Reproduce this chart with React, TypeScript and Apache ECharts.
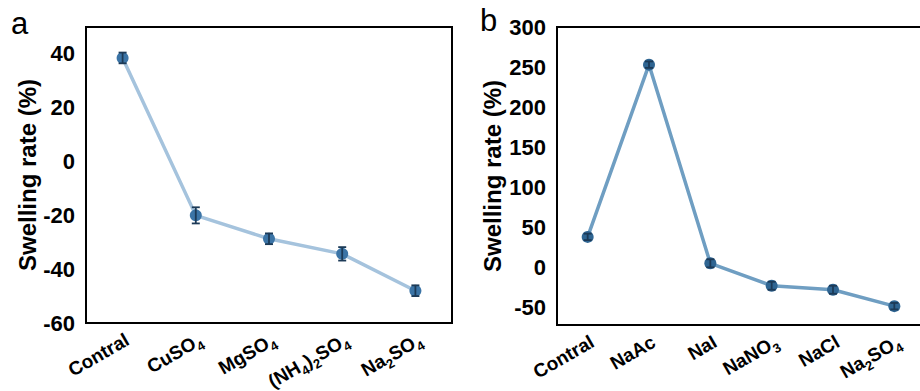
import React, { useEffect, useRef } from "react";
import * as echarts from "echarts";

const categoriesA = ["Contral", "CuSO4", "MgSO4", "(NH4)2SO4", "Na2SO4"];
const valuesA = [38.5, -20, -28.7, -34.3, -48];
const errorsA = [2, 3, 2, 2.5, 2];
const yLabelsA = [-60, -40, -20, 0, 20, 40];
const yMinorA = [-50, -30, -10, 10, 30];

const categoriesB = ["Contral", "NaAc", "NaI", "NaNO3", "NaCl", "Na2SO4"];
const valuesB = [38, 253, 5, -23, -28, -48.5];
const errorsB = [4, 4, 5, 5, 5, 4];
const yLabelsB = [-50, 0, 50, 100, 150, 200, 250, 300];
const yMinorB = [-25, 25, 75, 125, 175, 225, 275];

const FONT = "'Liberation Sans', Arial, sans-serif";

const subFmt = (v: string) => v.replace(/(\d)/g, "{s|$1}");

function errorSeries(xIdx: number, yIdx: number, vals: number[], errs: number[]) {
  return {
    type: "custom",
    xAxisIndex: xIdx,
    yAxisIndex: yIdx,
    z: 5,
    data: vals.map((v, i) => [i, v - errs[i], v + errs[i]]),
    encode: { x: 0, y: [1, 2] },
    renderItem: (params: any, api: any) => {
      const i = api.value(0);
      const lo = api.coord([i, api.value(1)]);
      const hi = api.coord([i, api.value(2)]);
      const w = 4;
      const style = { stroke: "#1c3a57", lineWidth: 1.8 };
      return {
        type: "group",
        children: [
          { type: "line", shape: { x1: lo[0], y1: lo[1], x2: hi[0], y2: hi[1] }, style },
          { type: "line", shape: { x1: lo[0] - w, y1: lo[1], x2: lo[0] + w, y2: lo[1] }, style },
          { type: "line", shape: { x1: hi[0] - w, y1: hi[1], x2: hi[0] + w, y2: hi[1] }, style },
        ],
      };
    },
  };
}

export default function App() {
  const ref = useRef<HTMLDivElement>(null);
  useEffect(() => {
    if (!ref.current) return;
    const chart = echarts.init(ref.current, null, { renderer: "svg" });
    const axisLine = { show: true, onZero: false, lineStyle: { color: "#000", width: 2 } };
    const xLabel = {
      rotate: 30,
      fontSize: 19,
      fontWeight: "bold",
      color: "#000",
      fontFamily: FONT,
      margin: 7,
      verticalAlign: "top",
      formatter: subFmt,
      rich: {
        s: { fontSize: 13, fontWeight: "bold", fontFamily: FONT, color: "#000", verticalAlign: "bottom", padding: [0, 0, -4, 0] },
      },
    };
    const yLabelStyle = { fontSize: 22, fontWeight: "bold", color: "#000", fontFamily: FONT, margin: 11 };
    const nameStyle = { fontSize: 24, fontWeight: "bold", color: "#000", fontFamily: FONT };

    const option: any = {
      animation: false,
      backgroundColor: "#fff",
      grid: [
        { left: 86, top: 27, width: 366, height: 296, show: true, borderColor: "#000", borderWidth: 2, backgroundColor: "transparent", outerBoundsMode: "none", containLabel: false },
        { left: 557, top: 27, width: 368, height: 298, show: true, borderColor: "#000", borderWidth: 2, backgroundColor: "transparent", outerBoundsMode: "none", containLabel: false },
      ],
      xAxis: [
        {
          type: "category", gridIndex: 0, data: categoriesA, boundaryGap: true,
          axisLine, axisTick: { alignWithLabel: true, length: 6, lineStyle: { color: "#000", width: 2 } },
          axisLabel: xLabel, splitLine: { show: false },
        },
        {
          type: "category", gridIndex: 0, data: categoriesA, boundaryGap: true, position: "bottom",
          axisLine: { show: false }, axisTick: { length: 3, lineStyle: { color: "#000", width: 2 } },
          axisLabel: { show: false }, splitLine: { show: false },
        },
        {
          type: "category", gridIndex: 1, data: categoriesB, boundaryGap: true,
          axisLine, axisTick: { alignWithLabel: true, length: 6, lineStyle: { color: "#000", width: 2 } },
          axisLabel: xLabel, splitLine: { show: false },
        },
        {
          type: "category", gridIndex: 1, data: categoriesB, boundaryGap: true, position: "bottom",
          axisLine: { show: false }, axisTick: { length: 3, lineStyle: { color: "#000", width: 2 } },
          axisLabel: { show: false }, splitLine: { show: false },
        },
      ],
      yAxis: [
        {
          type: "value", gridIndex: 0, min: -60, max: 50,
          axisLine, splitLine: { show: false },
          axisTick: { customValues: yLabelsA, length: 6, lineStyle: { color: "#000", width: 2 } },
          axisLabel: { ...yLabelStyle, customValues: yLabelsA },
          name: "Swelling rate (%)", nameLocation: "middle", nameGap: 45, nameTextStyle: nameStyle,
        },
        {
          type: "value", gridIndex: 0, min: -60, max: 50, position: "left",
          axisLine: { show: false }, splitLine: { show: false },
          axisTick: { customValues: yMinorA, length: 3, lineStyle: { color: "#000", width: 2 } },
          axisLabel: { show: false, customValues: yMinorA },
        },
        {
          type: "value", gridIndex: 1, min: -72, max: 300,
          axisLine, splitLine: { show: false },
          axisTick: { customValues: yLabelsB, length: 6, lineStyle: { color: "#000", width: 2 } },
          axisLabel: { ...yLabelStyle, customValues: yLabelsB },
          name: "Swelling rate (%)", nameLocation: "middle", nameGap: 53, nameTextStyle: nameStyle,
        },
        {
          type: "value", gridIndex: 1, min: -72, max: 300, position: "left",
          axisLine: { show: false }, splitLine: { show: false },
          axisTick: { customValues: yMinorB, length: 3, lineStyle: { color: "#000", width: 2 } },
          axisLabel: { show: false, customValues: yMinorB },
        },
      ],
      graphic: [
        { type: "text", left: 11, top: 8, style: { text: "a", fontSize: 31, fontFamily: FONT, fill: "#000" } },
        { type: "text", left: 480, top: 5, style: { text: "b", fontSize: 31, fontFamily: FONT, fill: "#000" } },
      ],
      series: [
        {
          type: "line", xAxisIndex: 0, yAxisIndex: 0, data: valuesA,
          symbol: "circle", symbolSize: 12,
          lineStyle: { color: "#a5c3dd", width: 3.5 },
          itemStyle: { color: "#3b74a6" },
        },
        errorSeries(0, 0, valuesA, errorsA),
        {
          type: "line", xAxisIndex: 2, yAxisIndex: 2, data: valuesB,
          symbol: "circle", symbolSize: 12,
          lineStyle: { color: "#6f9ec2", width: 3.5 },
          itemStyle: { color: "#2f6592" },
        },
        errorSeries(2, 2, valuesB, errorsB),
      ],
    };
    chart.setOption(option);
    return () => chart.dispose();
  }, []);
  return <div ref={ref} style={{ position: "fixed", left: 0, top: 0, width: 932, height: 391 }} />;
}
